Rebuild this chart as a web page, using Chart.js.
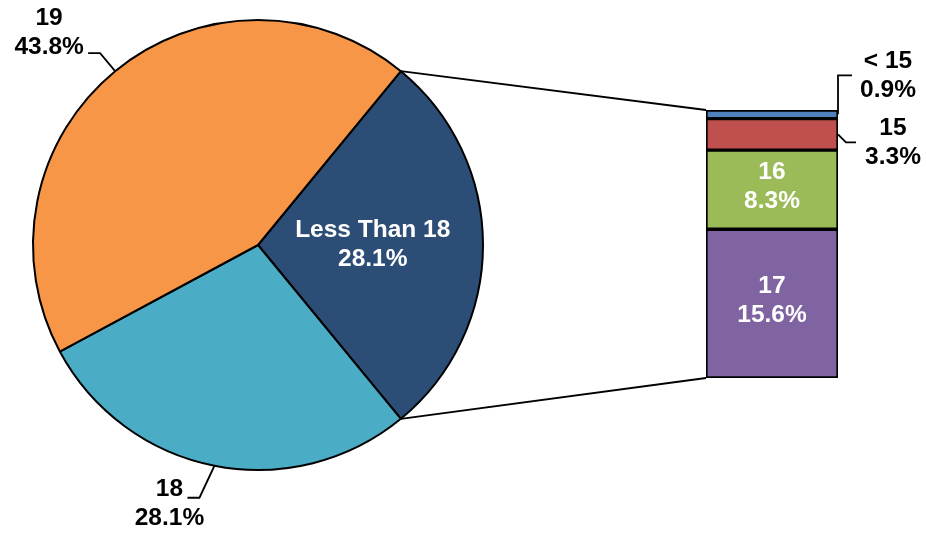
<!DOCTYPE html>
<html>
<head>
<meta charset="utf-8">
<script src="https://cdn.jsdelivr.net/npm/chart.js@4"></script>
<style>
  body { margin: 0; background: #fff; }
  #wrap { position: relative; width: 926px; height: 536px; }
  #wrap canvas { position: absolute; left: 0; top: 0; }
</style>
</head>
<body>
<div id="wrap">
  <canvas id="pie-chart" width="926" height="536"></canvas>
  <canvas id="bar-chart" width="926" height="536"></canvas>
</div>
<script>
// Pie data (the first slice is split in the bar)
const pieLabels = ["Less Than 18", "18", "19"];
const pieValues = [28.1, 28.1, 43.8];
const pieColors = ["#2C4D75", "#4BACC6", "#F79646"];

// Bar data, bottom to top
const barLabels = ["17", "16", "15", "< 15"];
const barValues = [15.6, 8.3, 3.3, 0.9];
const barColors = ["#8064A2", "#9BBB59", "#C0504D", "#4F81BD"];

const FONT = "bold 24.5px 'Liberation Sans', Arial, sans-serif";
const pct = v => v.toFixed(1) + "%";

const pieTotal = pieValues.reduce((a, b) => a + b, 0);
const barTotal = barValues.reduce((a, b) => a + b, 0);

// draw two lines of text centered on (x, y)
function twoLines(ctx, a, b, x, y, color) {
  ctx.save();
  ctx.font = FONT;
  ctx.fillStyle = color;
  ctx.textAlign = "center";
  ctx.textBaseline = "middle";
  ctx.fillText(a, x, y - 14.5);
  ctx.fillText(b, x, y + 14.5);
  ctx.restore();
}

function polyline(ctx, pts) {
  ctx.save();
  ctx.strokeStyle = "#000";
  ctx.lineWidth = 1.8;
  ctx.beginPath();
  ctx.moveTo(pts[0][0], pts[0][1]);
  for (let i = 1; i < pts.length; i++) ctx.lineTo(pts[i][0], pts[i][1]);
  ctx.stroke();
  ctx.restore();
}

// Labels for the pie slices
const pieLabelPlugin = {
  id: "pieLabels",
  afterDatasetsDraw(chart) {
    const ctx = chart.ctx;
    const arcs = chart.getDatasetMeta(0).data;
    arcs.forEach((arc, i) => {
      const mid = (arc.startAngle + arc.endAngle) / 2;
      const r = arc.outerRadius;
      if (i === 0) {
        const x = arc.x + Math.cos(mid) * r * 0.51;
        const y = arc.y + Math.sin(mid) * r * 0.51;
        twoLines(ctx, pieLabels[i], pct(pieValues[i]), x, y, "#fff");
        return;
      }
      const ex = arc.x + Math.cos(mid) * r;
      const ey = arc.y + Math.sin(mid) * r;
      if (i === 1) {
        const elbow = [ex - 15, ey + 32];
        const end = [elbow[0] - 12, elbow[1]];
        polyline(ctx, [[ex, ey], elbow, end]);
        twoLines(ctx, pieLabels[i], pct(pieValues[i]), end[0] - 18, end[1] + 6, "#000");
      } else {
        const elbow = [ex - 15, ey - 18];
        const end = [elbow[0] - 12, elbow[1]];
        polyline(ctx, [[ex, ey], elbow, end]);
        twoLines(ctx, pieLabels[i], pct(pieValues[i]), end[0] - 39, end[1] - 20, "#000");
      }
    });
  }
};

const pieChart = new Chart(document.getElementById("pie-chart"), {
  type: "pie",
  data: {
    labels: pieLabels,
    datasets: [{
      data: pieValues,
      backgroundColor: pieColors,
      borderColor: "#000",
      borderWidth: 2,
    }],
  },
  options: {
    responsive: false,
    animation: false,
    radius: 225,
    rotation: 90 - (pieValues[0] / pieTotal * 360) / 2,
    layout: { padding: { left: 0, top: 0, right: 410, bottom: 46 } },
    plugins: { legend: { display: false }, tooltip: { enabled: false } },
  },
  plugins: [pieLabelPlugin],
});

// Labels for the bar segments plus the connector lines to the pie
const barLabelPlugin = {
  id: "barLabels",
  afterDatasetsDraw(chart) {
    const ctx = chart.ctx;
    const area = chart.chartArea;

    // connectors from the first pie slice to the bar
    const arc = pieChart.getDatasetMeta(0).data[0];
    const yScale = chart.scales.y;
    const top = yScale.getPixelForValue(barTotal);
    const bottom = yScale.getPixelForValue(0);
    const r = arc.outerRadius;
    polyline(ctx, [[arc.x + Math.cos(arc.startAngle) * r, arc.y + Math.sin(arc.startAngle) * r], [area.left, top]]);
    polyline(ctx, [[arc.x + Math.cos(arc.endAngle) * r, arc.y + Math.sin(arc.endAngle) * r], [area.left, bottom]]);

    barLabels.forEach((lab, i) => {
      const bar = chart.getDatasetMeta(i).data[0];
      const cy = (bar.y + bar.base) / 2;
      const right = bar.x + bar.width / 2;
      if (i < 2) {
        twoLines(ctx, lab, pct(barValues[i]), bar.x, cy - 3, "#fff");
      } else if (i === 2) {
        const elbow = [right + 8, cy + 8];
        const end = [elbow[0] + 10, elbow[1]];
        polyline(ctx, [[right, cy], elbow, end]);
        twoLines(ctx, lab, pct(barValues[i]), end[0] + 37, end[1], "#000");
      } else {
        const elbow = [right, cy - 39];
        const end = [elbow[0] + 14, elbow[1]];
        polyline(ctx, [[right, cy], elbow, end]);
        twoLines(ctx, lab, pct(barValues[i]), end[0] + 36, end[1], "#000");
      }
    });
  }
};

new Chart(document.getElementById("bar-chart"), {
  type: "bar",
  data: {
    labels: [""],
    datasets: barLabels.map((lab, i) => ({
      label: lab,
      data: [barValues[i]],
      backgroundColor: barColors[i],
      borderColor: "#000",
      borderWidth: 2,
      borderSkipped: false,
      barPercentage: 1,
      categoryPercentage: 1,
    })),
  },
  options: {
    responsive: false,
    animation: false,
    layout: { padding: { left: 706, right: 88, top: 110, bottom: 158 } },
    scales: {
      x: { stacked: true, display: false },
      y: { stacked: true, display: false, min: 0, max: barTotal },
    },
    plugins: { legend: { display: false }, tooltip: { enabled: false } },
  },
  plugins: [barLabelPlugin],
});
</script>
</body>
</html>
